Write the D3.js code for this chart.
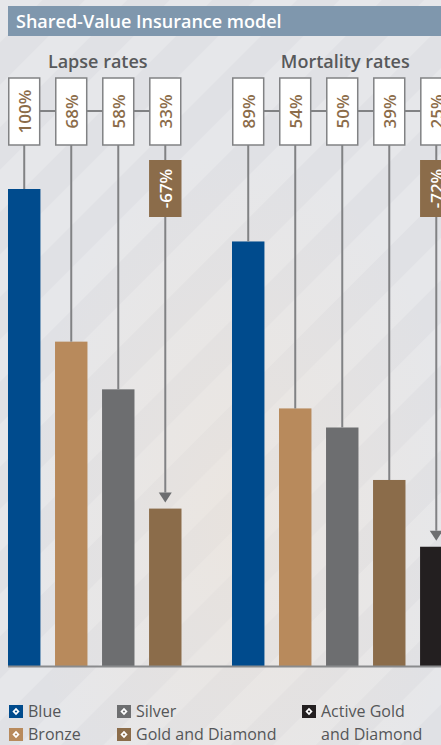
<!DOCTYPE html>
<html><head><meta charset="utf-8">
<script src="https://cdn.jsdelivr.net/npm/d3@7"></script>
<style>html,body{margin:0;padding:0;background:#e3e4e8;overflow:hidden}</style>
</head><body>
<svg id="c" width="441" height="745"></svg>
<script>
const tiers = ["Blue","Bronze","Silver","Gold and Diamond"];
const mortalityTiers = ["Blue","Bronze","Silver","Gold and Diamond","Active Gold and Diamond"];
const lapseValues = [100,68,58,33];
const mortalityValues = [89,54,50,39,25];
const lapseLabels = ["100%","68%","58%","33%"];
const mortalityLabels = ["89%","54%","50%","39%","25%"];
const lapseChange = "-67%";
const mortalityChange = "-72%";
const colors = {"Blue":"#004b8d","Bronze":"#b88a5c","Silver":"#6d6e70","Gold and Diamond":"#8b6c4a","Active Gold and Diamond":"#231f20"};
const legendItems = [
  {name:"Blue", label:["Blue"], col:0,row:0},
  {name:"Bronze", label:["Bronze"], col:0,row:1},
  {name:"Silver", label:["Silver"], col:1,row:0},
  {name:"Gold and Diamond", label:["Gold and Diamond"], col:1,row:1},
  {name:"Active Gold and Diamond", label:["Active Gold","and Diamond"], col:2,row:0}
];

const svg = d3.select("#c");
const defs = svg.append("defs");
const pat = defs.append("pattern").attr("id","stripes").attr("patternUnits","userSpaceOnUse")
  .attr("width",60).attr("height",60).attr("patternTransform","rotate(45)");
pat.append("rect").attr("width",60).attr("height",60).attr("fill","#e0e1e5");
pat.append("rect").attr("width",30).attr("height",60).attr("fill","#e6e7ea");
const rg = defs.append("radialGradient").attr("id","warm").attr("cx","0.55").attr("cy","0.7").attr("r","0.5");
rg.append("stop").attr("offset","0").attr("stop-color","#f0e4d6").attr("stop-opacity",0.5);
rg.append("stop").attr("offset","1").attr("stop-color","#f0e4d6").attr("stop-opacity",0);

svg.append("rect").attr("width",441).attr("height",745).attr("fill","url(#stripes)");
svg.append("rect").attr("width",441).attr("height",745).attr("fill","url(#warm)");

// Title bar
svg.append("rect").attr("x",8).attr("y",6).attr("width",433).attr("height",30).attr("fill","#7f97ad");
svg.append("text").attr("x",16).attr("y",27.5).text("Shared-Value Insurance model")
  .attr("font-family","'Open Sans'").attr("font-weight",600).attr("font-size",18).attr("fill","#fff");

const y = d3.scaleLinear().domain([0,100]).range([666,189]);
const xL = d3.scaleBand().domain(tiers).range([8,181.5]).paddingInner(0.31).paddingOuter(0);
const xM = d3.scaleBand().domain(mortalityTiers).range([232,452.5]).paddingInner(0.31).paddingOuter(0);

const boxTop = 78, boxH = 67, lineY = 111;
const lineCol = "#818284";

function group(title, cats, vals, labels, x, change) {
  const g = svg.append("g");
  const bw = x.bandwidth();
  const first = x(cats[0]) + bw/2, last = x(cats[cats.length-1]) + bw/2;
  g.append("text").attr("x",(x(cats[0]) + x(cats[cats.length-1]) + bw)/2 + 3).attr("y",68)
    .attr("text-anchor","middle").text(title)
    .attr("font-family","'Open Sans'").attr("font-weight",600).attr("font-size",18).attr("fill","#58595b");
  g.append("line").attr("x1",first).attr("x2",last).attr("y1",lineY).attr("y2",lineY)
    .attr("stroke",lineCol).attr("stroke-width",2);
  g.selectAll("rect.bar").data(cats).join("rect").attr("class","bar")
    .attr("x",d=>x(d)).attr("width",bw)
    .attr("y",(d,i)=>y(vals[i])).attr("height",(d,i)=>y(0)-y(vals[i]))
    .attr("fill",d=>colors[d]);
  const lastI = cats.length-1;
  g.selectAll("line.conn").data(cats).join("line").attr("class","conn")
    .attr("x1",d=>x(d)+bw/2).attr("x2",d=>x(d)+bw/2)
    .attr("y1",boxTop+boxH)
    .attr("y2",(d,i)=> i===lastI ? y(vals[i]) - 16 : y(vals[i]))
    .attr("stroke",lineCol).attr("stroke-width",2);
  const cx = x(cats[lastI]) + bw/2, tipY = y(vals[lastI]) - 6;
  g.append("path").attr("d",`M${cx-6.5},${tipY-10}L${cx+6.5},${tipY-10}L${cx},${tipY}Z`).attr("fill","#6d6e70");
  const lb = g.selectAll("g.lbl").data(cats).join("g").attr("class","lbl");
  lb.append("rect").attr("x",d=>x(d)+0.75).attr("y",boxTop).attr("width",bw-1.5).attr("height",boxH)
    .attr("fill","#fff").attr("stroke",lineCol).attr("stroke-width",1.5);
  lb.append("text").attr("transform",d=>`translate(${x(d)+bw/2+6.5},${boxTop+boxH/2}) rotate(-90)`)
    .attr("text-anchor","middle").text((d,i)=>labels[i])
    .attr("font-family","'Open Sans'").attr("font-weight",600).attr("font-size",17).attr("fill","#8b6c4a");
  g.append("rect").attr("x",x(cats[lastI])).attr("y",160).attr("width",bw).attr("height",57).attr("fill","#8b6c4a");
  g.append("text").attr("transform",`translate(${cx+6.5},188.5) rotate(-90)`).attr("text-anchor","middle")
    .text(change).attr("font-family","'Open Sans'").attr("font-weight",600).attr("font-size",17).attr("fill","#fff");
}
group("Lapse rates", tiers, lapseValues, lapseLabels, xL, lapseChange);
group("Mortality rates", mortalityTiers, mortalityValues, mortalityLabels, xM, mortalityChange);

svg.append("line").attr("x1",8).attr("x2",441).attr("y1",y(0)+0.5).attr("y2",y(0)+0.5)
  .attr("stroke","#8a8b8d").attr("stroke-width",2);

const colX = [9,117,302], rowY = [705,728];
const lg = svg.selectAll("g.leg").data(legendItems).join("g").attr("class","leg")
  .attr("transform",d=>`translate(${colX[d.col]},${rowY[d.row]})`);
lg.append("rect").attr("width",14).attr("height",13).attr("fill",d=>colors[d.name]);
lg.append("path").attr("d","M7,2.8L10.6,6.5L7,10.2L3.4,6.5Z").attr("fill","#fff");
lg.append("path").attr("d","M7,5.2L8.3,6.5L7,7.8L5.7,6.5Z").attr("fill",d=>colors[d.name]);
lg.each(function(d){
  const t = d3.select(this).append("text").attr("font-family","'Open Sans'").attr("font-size",16).attr("fill","#555658");
  d.label.forEach((s,i)=>t.append("tspan").attr("x",19).attr("y",12 + i*23).text(s));
});
</script>
</body></html>
